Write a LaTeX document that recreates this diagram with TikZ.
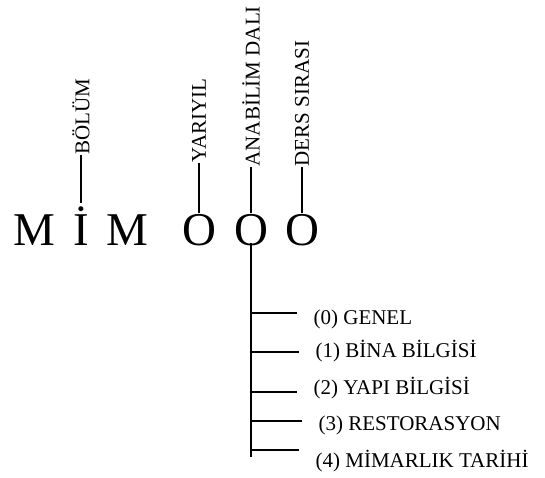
\documentclass[tikz,border=0pt]{standalone}
\usepackage{fontspec}
\setmainfont{Liberation Serif}

\tikzset{
  letter/.style={inner sep=0pt, anchor=base, font=\fontsize{47}{47}\selectfont},
  tag/.style={inner sep=0pt, rotate=90, anchor=west, font=\fontsize{21}{21}\selectfont},
  item/.style={inner sep=0pt, anchor=base west, font=\fontsize{21}{21}\selectfont},
  branch/.style={shorten >=16pt},
}

\begin{document}
\begin{tikzpicture}[x=1pt, y=1pt, line width=1.2pt]
\useasboundingbox (0,0) rectangle (545,477);
% code letters
\node[letter] (m1) at (34,232) {M};
\node[letter] (i)  at (81,232) {İ};
\node[letter] (m2) at (127,232) {M};
\node[letter] (o1) at (199,232) {O};
\node[letter] (o2) at (251,232) {O};
\node[letter] (o3) at (302,232) {O};
% vertical tags
\node[tag] (bolum)    at (81,322)  {BÖLÜM};
\node[tag] (yariyil)  at (199,314) {YARIYIL};
\node[tag] (anabilim) at (251,310) {ANABİLİM DALI};
\node[tag] (ders)     at (302,310) {DERS SIRASI};
\draw ([yshift=3pt]i.north) -- (bolum.west);
\draw (o1.north) -- (yariyil.west);
\draw (o3.north) -- (ders.west);
\draw (o2.north) -- (anabilim.west);
% main stem below the second O
\coordinate (stem) at (251,20);
\draw ([yshift=3pt]o2.south) -- (stem);
% branches
\node[item] (g0) at (313,153) {(0) GENEL};
\node[item] (g1) at (315,120) {(1) BİNA BİLGİSİ};
\node[item] (g2) at (313,83)  {(2) YAPI BİLGİSİ};
\node[item] (g3) at (318,47)  {(3) RESTORASYON};
\node[item] (g4) at (315,10)  {(4) MİMARLIK TARİHİ};
\foreach \n/\y in {0/164, 1/125, 2/85, 3/56, 4/27}
    \coordinate (s\n) at (251,\y);
\foreach \n in {0,...,4}
    \draw[branch] (s\n) -- (s\n -| g\n.west);
\end{tikzpicture}
\end{document}
